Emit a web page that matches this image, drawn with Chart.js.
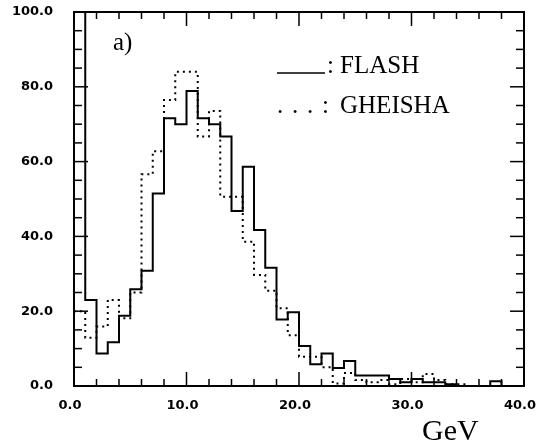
<!DOCTYPE html>
<html>
<head>
<meta charset="utf-8">
<script src="https://cdn.jsdelivr.net/npm/chart.js@4"></script>
<style>
  html, body { margin: 0; padding: 0; background: #fff; }
  #wrap { width: 537px; height: 447px; }
</style>
</head>
<body>
<div id="wrap"><canvas id="c" width="537" height="447"></canvas></div>
<script>
// Energy bins (GeV), 1 GeV wide
const binEdges = [0,1,2,3,4,5,6,7,8,9,10,11,12,13,14,15,16,17,18,19,20,
                  21,22,23,24,25,26,27,28,29,30,31,32,33,34,35,36,37,38,39,40];

// FLASH simulation (solid histogram); first bin runs off scale
const flash = [110, 23.0, 8.7, 11.7, 18.8, 25.9, 30.8, 51.5, 71.6, 70.0,
               78.9, 71.6, 70.0, 66.7, 46.8, 58.6, 41.7, 31.6, 17.8, 19.7,
               10.7, 5.8, 8.7, 4.8, 6.7, 2.8, 2.8, 2.8, 1.9, 1.0,
               1.9, 1.0, 1.0, 0.5, 0, 0, 0, 1.3, 0, 0];

// GHEISHA simulation (dotted histogram)
const gheisha = [20.0, 12.9, 15.9, 23.0, 18.1, 25.0, 56.6, 62.8, 76.5, 84.0,
                 84.0, 66.7, 73.5, 50.6, 50.6, 38.6, 29.7, 25.5, 20.8, 13.6,
                 7.8, 7.8, 5.0, 0.7, 3.5, 1.6, 1.0, 1.6, 0.5, 1.9,
                 1.0, 3.2, 1.6, 0.5, 0.5, 0, 0, 0, 0, 0];

const xTickLabels = [0, 10, 20, 30, 40];
const yTickLabels = [0, 20, 40, 60, 80, 100];

// Step outline: each point carries the value of the bin that ends at it,
// so the line runs flat across the bin and then steps at its right edge
function histPoints(vals) {
  const pts = [{ x: binEdges[0], y: vals[0] }];
  vals.forEach((v, i) => pts.push({ x: binEdges[i + 1], y: v }));
  return pts;
}

// Frame with inward ticks on all four sides, plus the annotations
const framePlugin = {
  id: 'framePlugin',
  afterDatasetsDraw(chart) {
    const { ctx, chartArea: a, scales: { x, y } } = chart;
    ctx.save();
    ctx.strokeStyle = '#000';
    ctx.lineWidth = 2;
    ctx.strokeRect(a.left, a.top, a.right - a.left, a.bottom - a.top);

    ctx.lineWidth = 1.5;
    const seg = (x1, y1, x2, y2) => { ctx.beginPath(); ctx.moveTo(x1, y1); ctx.lineTo(x2, y2); ctx.stroke(); };
    for (let v = x.min; v <= x.max; v += 2) {
      const px = x.getPixelForValue(v);
      const len = (v % 10 === 0) ? 14 : 7;
      seg(px, a.bottom, px, a.bottom - len);
      seg(px, a.top, px, a.top + len);
    }
    for (let v = y.min; v <= y.max; v += 5) {
      const py = y.getPixelForValue(v);
      const len = (v % 20 === 0) ? 14 : 8;
      seg(a.left, py, a.left + len, py);
      seg(a.right, py, a.right - len, py);
    }

    ctx.fillStyle = '#000';
    ctx.textBaseline = 'alphabetic';
    ctx.textAlign = 'left';
    ctx.font = '25px "Liberation Serif"';
    ctx.fillText('a)', a.left + 39, a.top + 38);

    // key
    const kx = a.left + 203;
    ctx.lineWidth = 1.5;
    seg(kx, a.top + 61, kx + 48, a.top + 61);
    ctx.fillText(':', kx + 50, a.top + 61);
    ctx.fillText('FLASH', kx + 63, a.top + 61);
    for (let i = 0; i < 3; i++) ctx.fillText('.', kx + i * 15, a.top + 101);
    ctx.fillText(':', kx + 45, a.top + 101);
    ctx.fillText('GHEISHA', kx + 63, a.top + 101);

    ctx.font = '30px "Liberation Serif"';
    ctx.fillText('GeV', a.left + 348, a.bottom + 54);
    ctx.restore();
  }
};

Chart.defaults.font.family = '"DejaVu Sans"';
Chart.defaults.font.weight = 'bold';
Chart.defaults.font.size = 13;
Chart.defaults.color = '#000';

new Chart(document.getElementById('c'), {
  type: 'line',
  data: {
    datasets: [
      {
        label: 'FLASH',
        data: histPoints(flash),
        stepped: 'after',
        borderColor: '#000',
        borderWidth: 2,
        pointRadius: 0,
        fill: false
      },
      {
        label: 'GHEISHA',
        data: histPoints(gheisha),
        stepped: 'after',
        borderColor: '#000',
        borderWidth: 2,
        borderDash: [2, 4],
        pointRadius: 0,
        fill: false
      }
    ]
  },
  options: {
    responsive: false,
    animation: false,
    events: [],
    layout: { padding: { top: 12, right: 13, left: 0, bottom: 0 } },
    plugins: { legend: { display: false }, tooltip: { enabled: false } },
    scales: {
      x: {
        type: 'linear',
        min: 0, max: 40,
        grid: { display: false, drawTicks: false },
        border: { display: false },
        afterBuildTicks: s => { s.ticks = xTickLabels.map(v => ({ value: v })); },
        ticks: {
          padding: 12,
          labelOffset: -4,
          maxRotation: 0,
          autoSkip: false,
          callback: v => Number(v).toFixed(1)
        },
        afterFit: s => { s.height = 61; s.paddingLeft = 0; s.paddingRight = 0; }
      },
      y: {
        type: 'linear',
        min: 0, max: 100,
        grid: { display: false, drawTicks: false },
        border: { display: false },
        afterBuildTicks: s => { s.ticks = yTickLabels.map(v => ({ value: v })); },
        ticks: {
          padding: 21,
          autoSkip: false,
          callback: v => Number(v).toFixed(1)
        },
        afterFit: s => { s.width = 74; s.paddingTop = 0; s.paddingBottom = 0; }
      }
    }
  },
  plugins: [framePlugin]
});
</script>
</body>
</html>
